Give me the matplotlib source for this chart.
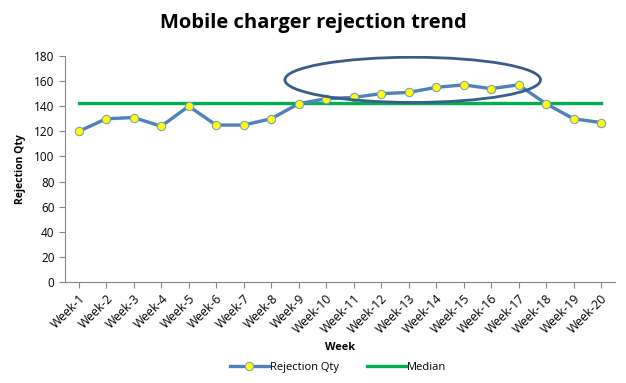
import matplotlib
matplotlib.use("Agg")
import matplotlib.pyplot as plt
from matplotlib.patches import Ellipse

weeks = [f"Week-{i}" for i in range(1, 21)]
rejection = [120, 130, 131, 124, 140, 125, 125, 130, 142, 146,
             147, 150, 151, 155, 157, 154, 157, 142, 130, 127]
median = [142.5] * 20
yticks = list(range(0, 181, 20))

plt.rcParams['font.family'] = ['Open Sans', 'DejaVu Sans']

fig = plt.figure(figsize=(6.26, 3.83), dpi=100)
ax = fig.add_axes([0.1038, 0.2637, 0.8782, 0.5901])
x = list(range(len(weeks)))

ax.plot(x, rejection, color='#4F81BD', lw=2.4, marker='o', ms=6,
        mfc='#FFFF00', mec='#7F9FBF', mew=0.8, label='Rejection Qty', zorder=3)
ax.plot(x, median, color='#00B050', lw=2.4, label='Median', zorder=2)

ell = Ellipse((12.15, 161), width=9.3, height=36, fill=False,
              edgecolor='#385D8A', lw=2.0, zorder=4)
ax.add_patch(ell)

ax.set_xlim(-0.5, len(weeks) - 0.5)
ax.set_ylim(0, 180)
ax.set_yticks(yticks)
ax.set_xticks(x)
ax.set_xticklabels(weeks, rotation=45, ha='right', rotation_mode='anchor', fontsize=8.8)
ax.tick_params(axis='y', labelsize=8.5, length=4, color='#868686')
ax.tick_params(axis='x', length=4, color='#868686')
for s in ['top', 'right']:
    ax.spines[s].set_visible(False)
for s in ['left', 'bottom']:
    ax.spines[s].set_color('#868686')

ax.set_ylabel('Rejection Qty', fontsize=7.5, fontweight='bold', labelpad=6)
ax.set_xlabel('Week', fontsize=7.8, fontweight='bold', labelpad=4)
fig.suptitle('Mobile charger rejection trend', fontsize=14.5, fontweight='bold', y=0.965)

fig.legend(loc='lower center', bbox_to_anchor=(0.54, 0.0), ncol=2, frameon=False,
           fontsize=8, handlelength=3.5, columnspacing=2.5, handletextpad=0.1)

fig.savefig('out.png', dpi=100)
